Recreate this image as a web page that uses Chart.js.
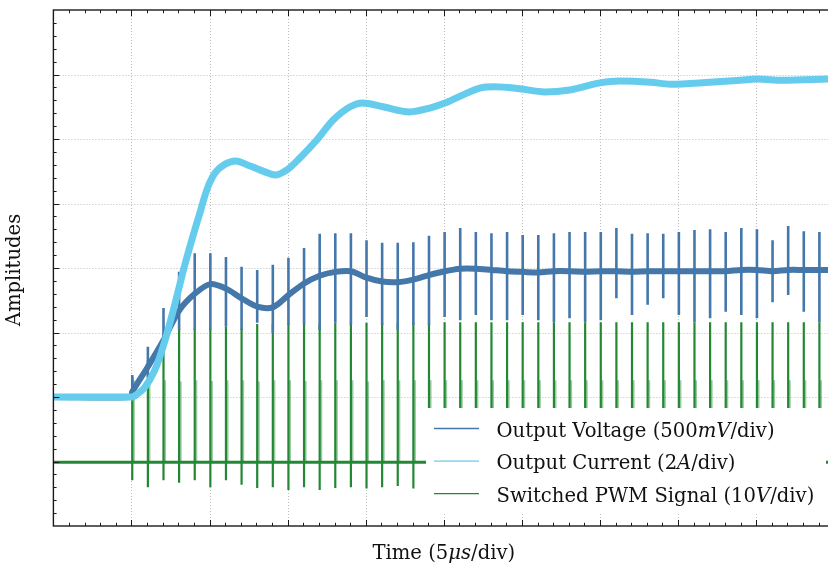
<!DOCTYPE html>
<html>
<head>
<meta charset="utf-8">
<script src="https://cdn.jsdelivr.net/npm/chart.js@4.4.1/dist/chart.umd.min.js"></script>
<style>
html, body { margin: 0; padding: 0; background: #fff; }
#wrap { width: 828px; height: 568px; }
</style>
</head>
<body>
<div id="wrap"><canvas id="scopeChart" width="828" height="568"></canvas></div>
<script>
// axes are in scope divisions (x: 5us/div, y: per-channel div)
const xMax = 9.92;
const yMax = 8;

// output current (smooth band)
const currentX = [0, 0.5, 1.0, 1.08, 1.17, 1.30, 1.43, 1.56, 1.69, 1.81, 1.88, 1.94, 2.0, 2.08, 2.2, 2.33, 2.52, 2.71, 2.84, 2.99,
    3.16, 3.37, 3.58, 3.80, 3.96, 4.22, 4.56, 4.82, 5.04, 5.24, 5.46, 5.65, 5.97, 6.29, 6.61, 7.00, 7.25, 7.65, 7.90, 8.41,
    8.80, 9.01, 9.34, 9.92];
const currentY = [2.0, 2.0, 2.0, 2.05, 2.15, 2.42, 2.88, 3.46, 4.08, 4.59, 4.87, 5.12, 5.32, 5.49, 5.61, 5.66, 5.58, 5.49, 5.44, 5.52,
    5.71, 5.98, 6.29, 6.50, 6.56, 6.50, 6.42, 6.48, 6.57, 6.68, 6.79, 6.81, 6.78, 6.73, 6.76, 6.87, 6.90, 6.88, 6.85, 6.88,
    6.91, 6.93, 6.91, 6.93];

// switching instants (one pulse per 1us)
const pulseTimes = [1.01, 1.21, 1.41, 1.61, 1.81, 2.01, 2.21, 2.41, 2.61, 2.81, 3.01, 3.21, 3.41, 3.61, 3.81, 4.01, 4.21, 4.41,
    4.61, 4.81, 5.01, 5.21, 5.41, 5.61, 5.81, 6.01, 6.21, 6.41, 6.61, 6.81, 7.01, 7.21, 7.41, 7.61, 7.81, 8.01, 8.21, 8.41,
    8.61, 8.81, 9.01, 9.21, 9.41, 9.61, 9.81];

// output voltage: level before switching, level at each pulse, spike extremes
const voltStartX = [0, 0.99];
const voltStartY = [2.0, 2.0];
const voltMid = [2.08, 2.47, 2.88, 3.34, 3.60, 3.75, 3.68, 3.53, 3.40, 3.39, 3.58, 3.76, 3.88, 3.94, 3.95, 3.85, 3.79, 3.78,
    3.82, 3.89, 3.95, 3.99, 3.99, 3.97, 3.95, 3.94, 3.93, 3.95, 3.95, 3.94, 3.95, 3.95, 3.94, 3.95, 3.95, 3.95, 3.95, 3.95,
    3.95, 3.97, 3.97, 3.95, 3.97, 3.97, 3.97];
const voltEnd = 3.97;
const voltHigh = [2.34, 2.78, 3.38, 3.94, 4.23, 4.23, 4.17, 4.02, 3.97, 4.05, 4.16, 4.31, 4.53, 4.54, 4.54, 4.43, 4.39, 4.39,
    4.40, 4.50, 4.56, 4.62, 4.56, 4.54, 4.56, 4.51, 4.51, 4.54, 4.56, 4.56, 4.56, 4.62, 4.53, 4.54, 4.53, 4.56, 4.59, 4.60,
    4.56, 4.62, 4.60, 4.43, 4.65, 4.57, 4.56];
const voltLow = [2.0, 2.30, 2.85, 3.04, 3.04, 3.04, 3.09, 3.04, 3.15, 2.99, 3.12, 3.12, 3.04, 3.15, 3.12, 3.24, 3.12, 3.04,
    3.12, 3.12, 3.24, 3.19, 3.27, 3.19, 3.19, 3.27, 3.19, 3.16, 3.22, 3.16, 3.19, 3.53, 3.27, 3.43, 3.53, 3.27, 3.16, 3.22,
    3.32, 3.27, 3.22, 3.47, 3.58, 3.32, 3.16];

// switched PWM signal
const pwmBase = 0.99;
const pwmTop = [2.31, 2.57, 2.88, 3.06, 3.06, 3.06, 3.09, 3.06, 3.13, 3.13, 3.14, 3.14, 3.14, 3.15, 3.15, 3.15, 3.15, 3.15,
    3.15, 3.15, 3.16, 3.16, 3.16, 3.16, 3.16, 3.16, 3.16, 3.16, 3.16, 3.16, 3.16, 3.16, 3.16, 3.16, 3.16, 3.16, 3.16, 3.16,
    3.16, 3.16, 3.16, 3.16, 3.16, 3.16, 3.16];
const pwmLow = [0.71, 0.60, 0.71, 0.67, 0.71, 0.60, 0.71, 0.64, 0.59, 0.60, 0.56, 0.60, 0.56, 0.59, 0.60, 0.58, 0.60, 0.62,
    0.58, 0.60, 0.60, 0.60, 0.60, 0.60, 0.60, 0.60, 0.60, 0.60, 0.60, 0.60, 0.60, 0.60, 0.60, 0.60, 0.60, 0.60, 0.60, 0.60,
    0.60, 0.60, 0.60, 0.60, 0.60, 0.60, 0.60];
const pwmFallDelay = 0.02;
const pwmFallTop = [2.26, 2.26, 2.26, 2.24, 2.26, 2.25, 2.26, 2.26, 2.24, 2.26, 2.26, 2.25, 2.26, 2.26, 2.26, 2.24, 2.26, 2.26,
    2.26, 2.26, 2.26, 2.26, 2.26, 2.26, 2.26, 2.26, 2.26, 2.26, 2.26, 2.26, 2.26, 2.26, 2.26, 2.26, 2.26, 2.26, 2.26, 2.26,
    2.26, 2.26, 2.26, 2.26, 2.26, 2.26, 2.26];

const colors = { volt: '#4477AA', curr: '#66CCEE', pwm: '#228833' };

const legendLabels = [
    { color: colors.volt, parts: [['Output Voltage (500', false], ['mV', true], ['/div)', false]] },
    { color: colors.curr, parts: [['Output Current (2', false], ['A', true], ['/div)', false]] },
    { color: colors.pwm, parts: [['Switched PWM Signal (10', false], ['V', true], ['/div)', false]] }
];
const xTitle = [['Time (5', false], ['\u03bcs', true], ['/div)', false]];
const yTitle = 'Amplitudes';

// build point lists for the library
const pts = (xs, ys) => xs.map((x, i) => ({ x: x, y: ys[i] }));
const currentData = pts(currentX, currentY);
const voltBandData = pts(voltStartX, voltStartY)
    .concat(pts(pulseTimes, voltMid))
    .concat([{ x: xMax, y: voltEnd }]);
const voltSpikeData = pulseTimes.flatMap((t, i) => [
    { x: t, y: voltLow[i] }, { x: t, y: voltHigh[i] }, { x: t, y: null }
]);
const pwmPulseData = pulseTimes.flatMap((t, i) => [
    { x: t, y: pwmLow[i] }, { x: t, y: pwmTop[i] }, { x: t, y: null }
]);
const pwmFallData = pulseTimes.flatMap((t, i) => [
    { x: t + pwmFallDelay, y: pwmBase }, { x: t + pwmFallDelay, y: pwmFallTop[i] }, { x: t + pwmFallDelay, y: null }
]);
const pwmBaseData = [{ x: 0, y: pwmBase }, { x: xMax, y: pwmBase }];

const FONT_FAMILY = '"DejaVu Serif", "Liberation Serif", serif';
let textSize = 19;

function fontFor(italic, size) {
    return (italic ? 'italic ' : '') + size + 'px ' + FONT_FAMILY;
}

function partsWidth(ctx, parts, size) {
    let w = 0;
    parts.forEach(p => { ctx.font = fontFor(p[1], size); w += ctx.measureText(p[0]).width; });
    return w;
}

function drawParts(ctx, parts, x, y, size, center) {
    let cx = center ? x - partsWidth(ctx, parts, size) / 2 : x;
    parts.forEach(p => {
        ctx.font = fontFor(p[1], size);
        ctx.fillText(p[0], cx, y);
        cx += ctx.measureText(p[0]).width;
    });
}

const scopeFrame = {
    id: 'scopeFrame',
    beforeDatasetsDraw(chart) {
        const ctx = chart.ctx;
        const ca = chart.chartArea;
        const xs = chart.scales.x, ys = chart.scales.y;
        ctx.save();
        ctx.strokeStyle = '#bdbdbd';
        ctx.lineWidth = 1;
        ctx.setLineDash([1, 2]);
        for (let v = 1; v < xMax; v++) {
            const px = Math.round(xs.getPixelForValue(v)) + 0.5;
            ctx.beginPath(); ctx.moveTo(px, ca.top); ctx.lineTo(px, ca.bottom); ctx.stroke();
        }
        for (let v = 1; v < yMax; v++) {
            const py = Math.round(ys.getPixelForValue(v)) + 0.5;
            ctx.beginPath(); ctx.moveTo(ca.left, py); ctx.lineTo(ca.right, py); ctx.stroke();
        }
        ctx.restore();
    },
    afterDatasetsDraw(chart) {
        const ctx = chart.ctx;
        const ca = chart.chartArea;
        const xs = chart.scales.x, ys = chart.scales.y;
        ctx.save();

        // legend box (opaque, no frame)
        const box = { left: ca.right - 402, top: ca.bottom - 118, right: ca.right - 2, bottom: ca.bottom - 12 };
        ctx.fillStyle = '#ffffff';
        ctx.fillRect(box.left, box.top, box.right - box.left, box.bottom - box.top);

        textSize = 19;
        const fitted = 318 / partsWidth(ctx, legendLabels[2].parts, textSize) * textSize;
        textSize = Math.round(fitted * 10) / 10;

        ctx.fillStyle = '#111';
        ctx.textBaseline = 'alphabetic';
        legendLabels.forEach((item, i) => {
            const rowY = box.top + 20.5 + i * 32.6;
            ctx.strokeStyle = item.color;
            ctx.lineWidth = 1.3;
            ctx.beginPath(); ctx.moveTo(box.left + 8, rowY); ctx.lineTo(box.left + 53, rowY); ctx.stroke();
            drawParts(ctx, item.parts, box.left + 70.5, rowY + 8, textSize, false);
        });

        // frame with inward ticks
        ctx.strokeStyle = '#1a1a1a';
        ctx.lineWidth = 1.4;
        ctx.strokeRect(ca.left, ca.top, ca.right - ca.left + 3, ca.bottom - ca.top);
        ctx.lineWidth = 1;
        for (let i = 1; i <= Math.floor(xMax * 5); i++) {
            const px = Math.round(xs.getPixelForValue(i / 5)) + 0.5;
            const len = i % 5 === 0 ? 6 : 3.2;
            ctx.beginPath();
            ctx.moveTo(px, ca.bottom); ctx.lineTo(px, ca.bottom - len);
            ctx.moveTo(px, ca.top); ctx.lineTo(px, ca.top + len);
            ctx.stroke();
        }
        for (let i = 1; i < yMax * 5; i++) {
            const py = Math.round(ys.getPixelForValue(i / 5)) + 0.5;
            const len = i % 5 === 0 ? 6 : 3.2;
            ctx.beginPath();
            ctx.moveTo(ca.left, py); ctx.lineTo(ca.left + len, py);
            ctx.stroke();
        }

        // axis titles
        ctx.fillStyle = '#111';
        drawParts(ctx, xTitle, xs.getPixelForValue(5), 559, textSize, true);
        ctx.translate(19.5, (ca.top + ca.bottom) / 2 + 2);
        ctx.rotate(-Math.PI / 2);
        ctx.textAlign = 'center';
        ctx.font = fontFor(false, textSize);
        ctx.fillText(yTitle, 0, 0);
        ctx.restore();
    }
};

const ctx = document.getElementById('scopeChart').getContext('2d');
const scopeChart = new Chart(ctx, {
    type: 'line',
    data: {
        datasets: [
            {
                label: 'Output Current',
                data: currentData,
                borderColor: colors.curr,
                borderWidth: 7,
                cubicInterpolationMode: 'monotone',
                order: 0
            },
            {
                label: 'Output Voltage spikes',
                data: voltSpikeData,
                borderColor: colors.volt,
                borderWidth: 2.6,
                order: 1
            },
            {
                label: 'Output Voltage',
                data: voltBandData,
                borderColor: colors.volt,
                borderWidth: 6,
                tension: 0.3,
                order: 2
            },
            {
                label: 'PWM pulses',
                data: pwmPulseData,
                borderColor: colors.pwm,
                borderWidth: 2.2,
                order: 3
            },
            {
                label: 'PWM falling edges',
                data: pwmFallData,
                borderColor: 'rgba(34, 136, 51, 0.45)',
                borderWidth: 2,
                order: 4
            },
            {
                label: 'Switched PWM Signal',
                data: pwmBaseData,
                borderColor: colors.pwm,
                borderWidth: 3,
                order: 5
            }
        ]
    },
    options: {
        responsive: false,
        animation: false,
        events: [],
        devicePixelRatio: 1,
        layout: { padding: { left: 53.4, top: 10, right: 0, bottom: 42 } },
        elements: { point: { radius: 0 }, line: { fill: false } },
        plugins: {
            legend: { display: false },
            tooltip: { enabled: false }
        },
        scales: {
            x: { type: 'linear', min: 0, max: xMax, display: false },
            y: { type: 'linear', min: 0, max: yMax, display: false }
        }
    },
    plugins: [scopeFrame]
});
</script>
</body>
</html>
